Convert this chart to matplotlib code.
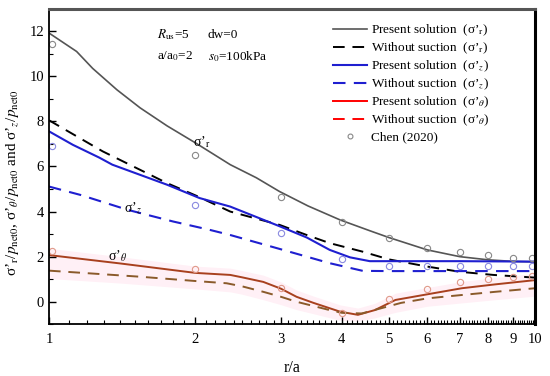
import numpy as np
import matplotlib
matplotlib.use("Agg")
from matplotlib import pyplot as plt
from matplotlib.lines import Line2D
from matplotlib.ticker import FixedLocator, NullFormatter, FixedFormatter

plt.rcParams["font.family"] = ["Liberation Serif", "DejaVu Serif"]
plt.rcParams["mathtext.fontset"] = "stix"

# 曲线数据 (r/a, 应力比)
x_r = [1.0, 1.14, 1.23, 1.38, 1.54, 1.75, 2.0, 2.36, 2.67, 2.98, 3.41, 3.97, 4.57, 5.0, 6.0, 7.0, 8.0, 9.0, 10.0]
y_r = [11.92, 11.1, 10.35, 9.4, 8.6, 7.8, 7.05, 6.08, 5.5, 4.89, 4.25, 3.63, 3.15, 2.85, 2.3, 2.0, 1.86, 1.79, 1.77]

x_r0 = [1.0, 1.29, 1.75, 2.01, 2.36, 2.98, 3.4, 3.78, 4.42, 5.0, 6.0, 7.0, 8.2, 10.0]
y_r0 = [8.05, 6.67, 5.26, 4.7, 4.0, 3.41, 2.95, 2.6, 2.22, 1.88, 1.56, 1.33, 1.19, 1.07]

x_z = [1.0, 1.12, 1.27, 1.35, 1.75, 2.04, 2.36, 2.98, 3.39, 3.78, 4.16, 4.57, 5.0, 7.0, 10.0]
y_z = [7.56, 6.96, 6.39, 6.08, 5.19, 4.6, 4.22, 3.35, 2.85, 2.3, 1.97, 1.8, 1.8, 1.8, 1.78]

x_z0 = [1.0, 1.16, 1.45, 1.8, 2.14, 2.36, 3.03, 3.78, 4.42, 5.0, 7.0, 10.0]
y_z0 = [5.11, 4.74, 4.08, 3.56, 3.19, 2.96, 2.3, 1.71, 1.37, 1.36, 1.36, 1.36]

x_t = [1.0, 1.4, 2.0, 2.36, 2.5, 2.76, 3.0, 3.23, 3.5, 3.97, 4.32, 4.68, 5.16, 6.0, 7.07, 8.27, 10.0]
y_t = [2.07, 1.7, 1.28, 1.19, 1.08, 0.88, 0.58, 0.22, -0.05, -0.44, -0.58, -0.37, 0.08, 0.33, 0.6, 0.77, 0.96]

x_t0 = [1.0, 1.54, 2.0, 2.32, 2.5, 2.76, 3.0, 3.23, 3.78, 4.0, 4.4, 4.8, 5.3, 6.0, 7.07, 8.27, 10.0]
y_t0 = [1.38, 1.11, 0.92, 0.82, 0.68, 0.44, 0.22, 0.0, -0.37, -0.49, -0.52, -0.3, -0.05, 0.15, 0.3, 0.44, 0.6]

# Chen (2020)
chen_x = [1.015, 2, 3, 4, 5, 6, 7, 8, 9, 9.87]
chen_r = [11.44, 6.5, 4.64, 3.53, 2.82, 2.4, 2.22, 2.07, 1.93, 1.93]
chen_z = [6.89, 4.27, 3.04, 1.88, 1.59, 1.59, 1.59, 1.59, 1.59, 1.59]
chen_t = [2.25, 1.44, 0.6, -0.49, 0.1, 0.55, 0.86, 1.0, 1.11, 1.14]

x_ticks = [1, 2, 3, 4, 5, 6, 7, 8, 9, 10]


def main():
    fig = plt.figure(figsize=(5.5, 3.76), dpi=100)
    ax = fig.add_axes([0.089, 0.1375, 0.884, 0.8395])

    # 淡粉色背景带
    xt = np.array(x_t)
    ax.fill_between(x_t, np.interp(xt, x_t0, y_t0) - 0.35, np.array(y_t) + 0.3,
                    color="#fff0f6", lw=0, zorder=0)

    dash = (6, 4)
    ax.plot(x_r, y_r, color="#555555", lw=1.2)
    ax.plot(x_r0, y_r0, color="black", lw=1.4, dashes=dash)
    ax.plot(x_z, y_z, color="#1f1fd0", lw=1.5)
    ax.plot(x_z0, y_z0, color="#1f1fd0", lw=1.5, dashes=dash)
    ax.plot(x_t, y_t, color="#a8401e", lw=1.4)
    ax.plot(x_t0, y_t0, color="#8a5a2a", lw=1.4, dashes=dash)

    mk = dict(marker="o", ls="none", ms=4.5, mfc="none", mew=0.8, clip_on=False)
    ax.plot(chen_x, chen_r, mec="#888888", **mk)
    ax.plot(chen_x, chen_z, mec="#8a8ae0", **mk)
    ax.plot(chen_x, chen_t, mec="#e09a8a", **mk)

    ax.set_xscale("log")
    ax.set_xlim(1, 10)
    ax.set_ylim(-1, 13)
    ax.xaxis.set_major_locator(FixedLocator(x_ticks))
    ax.xaxis.set_major_formatter(FixedFormatter([str(v) for v in x_ticks]))
    ax.xaxis.set_minor_locator(FixedLocator(np.arange(1.0, 10.0, 0.1)))
    ax.xaxis.set_minor_formatter(NullFormatter())
    ax.set_yticks([0, 2, 4, 6, 8, 10, 12])
    ax.set_yticks([-1, 1, 3, 5, 7, 9, 11], minor=True)
    ax.tick_params(which="both", direction="in", top=False, right=False, labelsize=10.5)
    ax.tick_params(which="major", length=5, width=1.0)
    ax.tick_params(which="minor", length=3, width=0.8)
    ax.tick_params(axis="x", pad=6)

    for s in ["left", "bottom"]:
        ax.spines[s].set_linewidth(1.3)
    ax.spines["top"].set_linewidth(2.2)
    ax.spines["top"].set_color("#555555")
    ax.spines["right"].set_linewidth(2.2)

    ax.set_xlabel("r/a", fontsize=11.5, labelpad=10)
    ax.set_ylabel("σ’$_{\\rm r}$/$p_{\\rm net0}$, σ’$_{\\theta}$/$p_{\\rm net0}$ and σ’$_{z}$/$p_{\\rm net0}$",
                  fontsize=11)
    ax.yaxis.set_label_coords(-0.058, 0.45)

    # 参数标注
    ax.text(1.67, 11.85, r"$R_{\rm us}$=5", fontsize=9.5, va="center")
    ax.text(2.12, 11.85, "dw=0", fontsize=9.5, va="center")
    ax.text(1.67, 10.88, r"a/a$_0$=2", fontsize=9.5, va="center")
    ax.text(2.12, 10.88, r"$s_0$=100kPa", fontsize=9.5, va="center")

    ax.text(1.98, 6.9, "σ’$_{\\rm r}$", fontsize=10)
    ax.text(1.43, 4.0, "σ’$_{z}$", fontsize=10)
    ax.text(1.32, 1.85, "σ’$_{\\theta}$", fontsize=10)

    handles = [
        Line2D([], [], color="#555555", lw=1.2),
        Line2D([], [], color="black", lw=1.4, dashes=dash),
        Line2D([], [], color="#1f1fd0", lw=1.5),
        Line2D([], [], color="#1f1fd0", lw=1.5, dashes=dash),
        Line2D([], [], color="red", lw=1.4),
        Line2D([], [], color="red", lw=1.4, dashes=dash),
        Line2D([], [], marker="o", ls="none", ms=3.5, mfc="none", mec="#888888", mew=0.8),
    ]
    labels = [
        "Present solution  (σ’$_{\\rm r}$)",
        "Without suction  (σ’$_{\\rm r}$)",
        "Present solution  (σ’$_{z}$)",
        "Without suction  (σ’$_{z}$)",
        "Present solution  (σ’$_{\\theta}$)",
        "Without suction  (σ’$_{\\theta}$)",
        "Chen (2020)",
    ]
    ax.legend(handles, labels, loc="upper left", frameon=False, fontsize=9.5,
              handlelength=2.6, handletextpad=0.3, labelspacing=0.2,
              borderpad=0, borderaxespad=0, bbox_to_anchor=(0.584, 0.955))

    fig.savefig("out.png", dpi=100)


if __name__ == "__main__":
    main()
